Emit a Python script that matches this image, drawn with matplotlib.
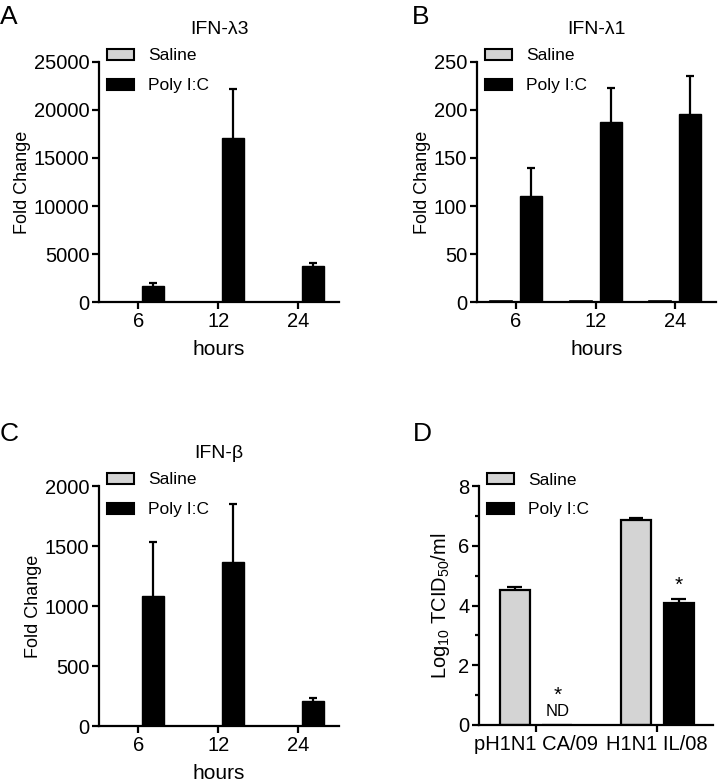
import matplotlib
matplotlib.use("Agg")
import matplotlib.pyplot as plt
import numpy as np
from matplotlib.patches import Patch

plt.rcParams["font.family"] = ["Liberation Sans", "DejaVu Sans"]
plt.rcParams["mathtext.default"] = "regular"

hours = ["6", "12", "24"]

# fold change values (saline ~ baseline of 1)
saline_l3 = [1, 1, 1]
poly_l3 = [1630, 17060, 3780]
poly_l3_err = [310, 5100, 280]

saline_l1 = [1, 1, 1]
poly_l1 = [110, 187, 195.6]
poly_l1_err = [29.4, 35.6, 40.2]

saline_b = [1, 1, 1]
poly_b = [1086, 1364, 206]
poly_b_err = [447, 489, 30]

strains = ["pH1N1 CA/09", "H1N1 IL/08"]
saline_titer = [4.51, 6.86]
saline_titer_err = [0.11, 0.06]
poly_titer = [0.0, 4.08]
poly_titer_err = [0.0, 0.14]

W, H = 718, 782
GRAY = "#d4d4d4"
LW = 1.6


def px_axes(fig, left, right, top, bottom):
    return fig.add_axes([left / W, 1 - bottom / H, (right - left) / W, (bottom - top) / H])


def style(ax):
    for s in ["top", "right"]:
        ax.spines[s].set_visible(False)
    for s in ["left", "bottom"]:
        ax.spines[s].set_linewidth(LW)
    ax.tick_params(width=LW, length=5, labelsize=14.5, pad=2)


def add_legend(ax):
    handles = [Patch(facecolor=GRAY, edgecolor="black", linewidth=1.5, label="Saline"),
               Patch(facecolor="black", edgecolor="black", linewidth=1.5, label="Poly I:C")]
    ax.legend(handles=handles, loc="upper left", bbox_to_anchor=(-0.01, 1.10),
              frameon=False, fontsize=12.5, handlelength=1.55, handleheight=0.6,
              handletextpad=0.8, labelspacing=0.85, borderaxespad=0.2)


def upper_err(ax, xpos, vals, err, capw):
    # upper-only error bars with a single cap
    vals = np.asarray(vals, float)
    err = np.asarray(err, float)
    keep = err > 0
    ax.vlines(xpos[keep], vals[keep], vals[keep] + err[keep], color="black", lw=LW)
    ax.hlines(vals[keep] + err[keep], xpos[keep] - capw, xpos[keep] + capw, color="black", lw=LW)


def fold_panel(ax, saline, poly, err, ymax, step, title):
    x = np.arange(len(hours))
    w = 0.275
    off = 0.1875
    ax.bar(x - off, saline, w, color=GRAY, edgecolor="black", linewidth=1.2)
    ax.bar(x + off, poly, w, color="black", edgecolor="black")
    upper_err(ax, x + off, poly, err, 0.05)
    ax.set_xticks(x)
    ax.set_xticklabels(hours)
    ax.set_xlim(-0.49, 2.51)
    ax.set_ylim(0, ymax)
    ax.set_yticks(np.arange(0, ymax + 1, step))
    ax.set_ylabel("Fold Change", fontsize=13, labelpad=2)
    ax.set_xlabel("hours", fontsize=15, labelpad=7)
    ax.set_title(title, fontsize=14, pad=20)
    style(ax)
    add_legend(ax)


fig = plt.figure(figsize=(W / 100, H / 100), dpi=100)

axA = px_axes(fig, 99, 339, 62, 302)
fold_panel(axA, saline_l3, poly_l3, poly_l3_err, 25000, 5000, "IFN-λ3")
axB = px_axes(fig, 477, 716, 62, 302)
fold_panel(axB, saline_l1, poly_l1, poly_l1_err, 250, 50, "IFN-λ1")
axC = px_axes(fig, 99, 339, 486, 726)
fold_panel(axC, saline_b, poly_b, poly_b_err, 2000, 500, "IFN-β")

# panel D
axD = px_axes(fig, 479, 713, 486, 725)
x = np.arange(len(strains))
w = 0.248
off = 0.176
axD.bar(x - off, saline_titer, w, color=GRAY, edgecolor="black", linewidth=LW)
axD.bar(x + off, poly_titer, w, color="black", edgecolor="black", linewidth=LW)
upper_err(axD, x - off, saline_titer, saline_titer_err, 0.06)
upper_err(axD, x + off, poly_titer, poly_titer_err, 0.06)
axD.text(x[0] + off, 0.45, "ND", ha="center", va="center", fontsize=12)
axD.text(x[0] + off, 1.0, "*", ha="center", va="center", fontsize=15)
axD.text(x[1] + off, poly_titer[1] + poly_titer_err[1] + 0.45, "*",
         ha="center", va="center", fontsize=15)
axD.set_xticks(x)
axD.set_xticklabels(strains)
axD.set_xlim(-0.47, 1.46)
axD.set_ylim(0, 8)
axD.set_yticks([0, 2, 4, 6, 8])
axD.set_yticks([1, 3, 5, 7], minor=True)
axD.set_ylabel("Log$_{10}$ TCID$_{50}$/ml", fontsize=14.5, labelpad=4)
style(axD)
axD.tick_params(which="minor", width=LW, length=3)
add_legend(axD)

fig.text(0 / W, 1 - 17 / H, "A", fontsize=19, va="center", ha="left")
fig.text(412 / W, 1 - 17 / H, "B", fontsize=19, va="center", ha="left")
fig.text(0 / W, 1 - 434 / H, "C", fontsize=19, va="center", ha="left")
fig.text(413 / W, 1 - 434 / H, "D", fontsize=19, va="center", ha="left")

fig.savefig("out.png", dpi=100)
